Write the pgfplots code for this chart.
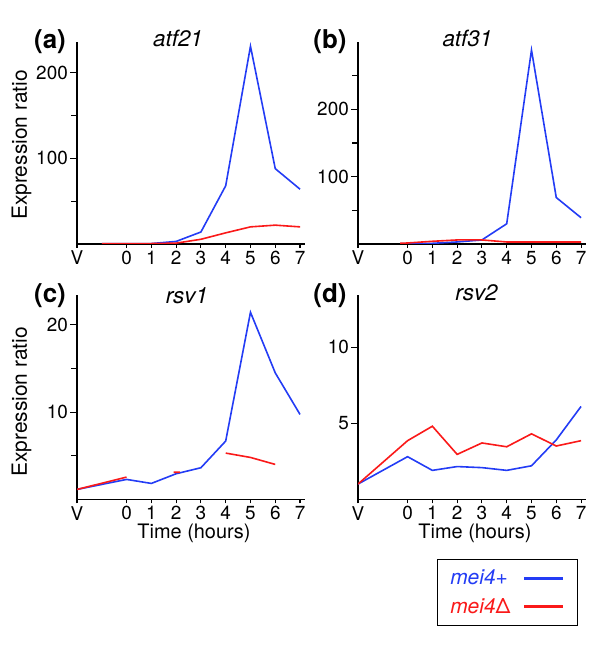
\documentclass[border=0pt]{standalone}
\usepackage{pgfplots}
\pgfplotsset{compat=1.18}
\usepackage{fontspec}
\setmainfont{TeX Gyre Heros}
\definecolor{myblue}{RGB}{35,60,245}
\definecolor{myred}{RGB}{250,25,25}
\pgfplotsset{
 panel/.style={
  scale only axis, width=228bp,
  xmin=-2, xmax=7.2, ymin=0,
  axis x line=bottom, axis y line=left,
  axis line style={-, line width=1.2bp, black},
  tick align=outside,
  xtick={-2,0,1,2,3,4,5,6,7},
  xticklabels={V,0,1,2,3,4,5,6,7},
  major tick length=7bp, minor tick length=6bp,
  tick style={line width=1.1bp, black},
  xtick style={/pgfplots/major tick length=4bp},
  /pgf/number format/assume math mode=true,
  tick label style={font=\fontsize{19}{22}\selectfont},
  xticklabel style={inner sep=0bp},
  yticklabel style={inner sep=2bp},
  title style={font=\fontsize{22.5}{26}\selectfont\itshape, anchor=base, inner sep=0pt},
  xlabel style={font=\fontsize{20}{24}\selectfont, anchor=base, inner sep=0pt},
  ylabel style={font=\fontsize{21}{24}\selectfont, anchor=center, inner sep=0pt},
  unbounded coords=jump,
 },
 blueline/.style={myblue, line width=1.6bp, no markers},
 redline/.style={myred, line width=1.6bp, no markers},
}
\begin{document}
\begin{tikzpicture}[x=1bp,y=1bp]
\useasboundingbox (0,0) rectangle (600,652);

% (a)
\begin{axis}[panel, at={(77bp,408bp)}, anchor=south west, height=202bp,
  ymax=236, ytick={100,200}, minor ytick={50,150},
  title={atf21}, title style={at={(axis description cs:0.443,0.95)}},
  ylabel={Expression ratio}, ylabel style={at={(axis description cs:-0.243,0.49)}}]
\addplot[blueline] coordinates {(-1,0.3)(0,0.3)(1,0.5)(2,3)(3,14)(4,68)(5,231)(6,88)(7,64)};
\addplot[redline] coordinates {(-1,0.5)(0,0.5)(1,0.5)(2,1)(3,5.5)(4,13)(5,20)(6,22)(7,20)};
\end{axis}
\node[font=\fontsize{26}{30}\selectfont\bfseries, anchor=base, inner sep=0pt] at (50,603.5) {(a)};

% (b)
\begin{axis}[panel, at={(358bp,408bp)}, anchor=south west, height=202bp,
  ymax=300, ytick={100,200}, minor ytick={50,150,250},
  title={atf31}, title style={at={(axis description cs:0.48,0.95)}}]
\addplot[blueline] coordinates {(-0.3,0.3)(0,0.3)(1,1)(2,3)(3,6)(4,30)(5,288)(6,69)(7,39)};
\addplot[redline] coordinates {(-0.3,1)(0,1.5)(1,4)(2,6)(3,6)(4,3)(5,3)(6,3)(7,3)};
\end{axis}
\node[font=\fontsize{26}{30}\selectfont\bfseries, anchor=base, inner sep=0pt] at (330,603.5) {(b)};

% (c)
\begin{axis}[panel, at={(77bp,152.7bp)}, anchor=south west, height=204bp,
  ymax=23.4, ytick={10,20}, minor ytick={5,15},
  title={rsv1}, title style={at={(axis description cs:0.482,0.931)}},
  ylabel={Expression ratio}, ylabel style={at={(axis description cs:-0.243,0.477)}},
  xlabel={Time (hours)}, xlabel style={at={(axis description cs:0.513,-0.19)}}]
\addplot[blueline] coordinates {(-2,1.13)(0,2.28)(1,1.82)(2,2.93)(3,3.62)(4,6.68)(5,21.45)(6,14.5)(7,9.73)};
\addplot[redline] coordinates {(-2,1.13)(0,2.55)(0.5,nan)(1.9,3.1)(2.15,3.1)(3,nan)(4,5.3)(5,4.8)(6,4.0)};
\end{axis}
\node[font=\fontsize{26}{30}\selectfont\bfseries, anchor=base, inner sep=0pt] at (50,349.5) {(c)};

% (d)
\begin{axis}[panel, at={(358bp,152.7bp)}, anchor=south west, height=204bp,
  ymax=13.4, ytick={5,10},
  title={rsv2}, title style={at={(axis description cs:0.52,0.943)}},
  xlabel={Time (hours)}, xlabel style={at={(axis description cs:0.513,-0.19)}},
  legend plot pos=right,
  legend image code/.code={\draw[#1] (0bp,0bp) -- (39bp,0bp);},
  legend image post style={line width=3bp},
  legend style={at={(axis description cs:0.346,-0.293)}, anchor=north west,
    draw=black, line width=0.8bp, fill=white,
    font=\fontsize{21}{25}\selectfont\itshape,
    inner xsep=13bp, inner ysep=10.5bp, row sep=12bp, column sep=12bp,
    nodes={inner sep=0bp},
    cells={anchor=west}}]
\addplot[blueline] coordinates {(-2,1.0)(0,2.8)(1,1.9)(2,2.15)(3,2.08)(4,1.9)(5,2.2)(6,3.9)(7,6.1)};
\addlegendentry{\textcolor{myblue}{mei4+}}
\addplot[redline] coordinates {(-2,1.0)(0,3.85)(1,4.8)(2,2.95)(3,3.7)(4,3.45)(5,4.3)(6,3.5)(7,3.85)};
\addlegendentry{\textcolor{myred}{mei4{\upshape Δ}}}
\end{axis}
\node[font=\fontsize{26}{30}\selectfont\bfseries, anchor=base, inner sep=0pt] at (330,349.5) {(d)};
\end{tikzpicture}
\end{document}
